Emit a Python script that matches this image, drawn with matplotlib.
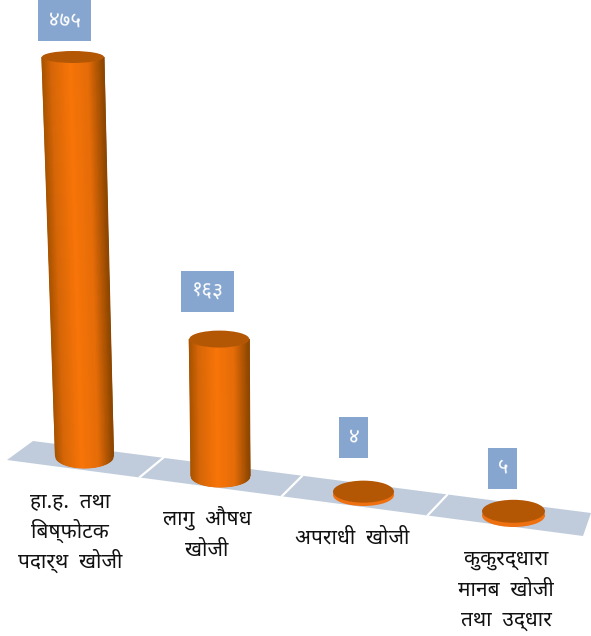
import numpy as np
import matplotlib
matplotlib.use("Agg")
import matplotlib.pyplot as plt
from matplotlib.colors import LinearSegmentedColormap
from matplotlib.patches import Ellipse, Polygon, Rectangle

plt.rcParams['font.family'] = ['Noto Sans Devanagari', 'DejaVu Sans']

# data
categories = [["हा.ह.  तथा", "बिष्फोटक", "पदार्थ  खोजी"],
              ["लागु  औषध", "खोजी"],
              ["अपराधी  खोजी"],
              ["कुकुरद्धारा", "मानब  खोजी", "तथा  उद्धार"]]
values = [475, 163, 4, 5]
value_labels = ["४७५", "१६३", "४", "५"]

# layout, in pixels of the picture
W, H = 591, 636
px_per_unit = 0.84
base_x = [84.5, 220.5, 363.5, 513.5]
base_y = [456, 476, 495, 515.5]
base_w = [29, 29.5, 30.5, 31.5]
top_w = [31, 30, 30.5, 31.5]
base_ry = [12, 11, 11, 11.5]
top_ry = [6, 8.5, 11, 11.5]
lean = [0.029, 0.009, 0, 0]
box_w = [53, 53, 29, 29]
box_gap = [10, 19, 23, 11]
box_x = [64.5, 207.5, 353.5, 502.5]
label_x = [70, 207, 352, 506]
label_baseline = [507, 525, 544, 565]
line_step = 30.5

floor = [(7, 460), (33, 441), (591, 513), (583, 536)]
dividers = [((140, 477), (163, 458)), ((282, 496), (302, 476)), ((428, 515), (447, 495))]

ORANGE = LinearSegmentedColormap.from_list(
    "cyl", [(0, "#a85300"), (0.15, "#d66607"), (0.45, "#f87508"), (0.75, "#e56c08"), (1, "#8c4600")])
TOP = "#b45705"
BOX = "#86a6cf"
FLOOR = "#c0ccdc"


def shape_order(line):
    # no text shaping here, so the short i sign has to go before its consonant
    chars = list(line)
    for i in range(1, len(chars)):
        if chars[i] == "ि":
            chars[i - 1], chars[i] = chars[i], chars[i - 1]
    return "".join(chars)


fig = plt.figure(figsize=(W / 100, H / 100), dpi=100)
ax = fig.add_axes([0, 0, 1, 1])
ax.set_xlim(0, W)
ax.set_ylim(H, 0)
ax.axis("off")

ax.add_patch(Polygon(floor, closed=True, fc=FLOOR, ec="none", zorder=1))
for p, q in dividers:
    ax.plot([p[0], q[0]], [p[1], q[1]], color="white", lw=1.6, zorder=2)

for i, v in enumerate(values):
    h = v * px_per_unit
    y_base, y_top = base_y[i], base_y[i] - h
    top_x = base_x[i] - lean[i] * h

    # the cylinder side, a mesh that follows the lower arc of both ellipses
    u = np.linspace(-1, 1, 61)
    t = np.array([0.0, 1.0])
    uu, tt = np.meshgrid(u, t)
    cx = top_x + (base_x[i] - top_x) * tt
    hw = top_w[i] + (base_w[i] - top_w[i]) * tt
    ry = top_ry[i] + (base_ry[i] - top_ry[i]) * tt
    X = cx + uu * hw
    Y = y_top + (y_base - y_top) * tt + ry * np.sqrt(1 - uu ** 2)
    if v < 20:
        # very short bars read as a flat disc with a bright rim
        ax.add_patch(Ellipse((base_x[i], y_base), 2 * base_w[i], 2 * base_ry[i],
                             fc="#ee7010", ec="none", zorder=3))
    else:
        ax.pcolormesh(X, Y, (uu + 1) / 2, cmap=ORANGE, vmin=0, vmax=1,
                      shading="gouraud", zorder=3)
    ax.add_patch(Ellipse((top_x, y_top), 2 * top_w[i], 2 * top_ry[i], fc=TOP, ec="none", zorder=4))

    # value box above the bar
    box_bottom = y_top - top_ry[i] - box_gap[i]
    ax.add_patch(Rectangle((box_x[i] - box_w[i] / 2, box_bottom - 41), box_w[i], 41,
                           fc=BOX, ec="none", zorder=5))
    ax.text(box_x[i], box_bottom - 20.5, value_labels[i], color="white", fontsize=15,
            ha="center", va="center", rotation=-5, zorder=6)

    # category label, one text per line so the line step stays even
    for j, line in enumerate(categories[i]):
        ax.text(label_x[i], label_baseline[i] + j * line_step, shape_order(line),
                color="#111111", fontsize=15, ha="center", va="baseline", zorder=6)

fig.savefig("out.png", dpi=100)
